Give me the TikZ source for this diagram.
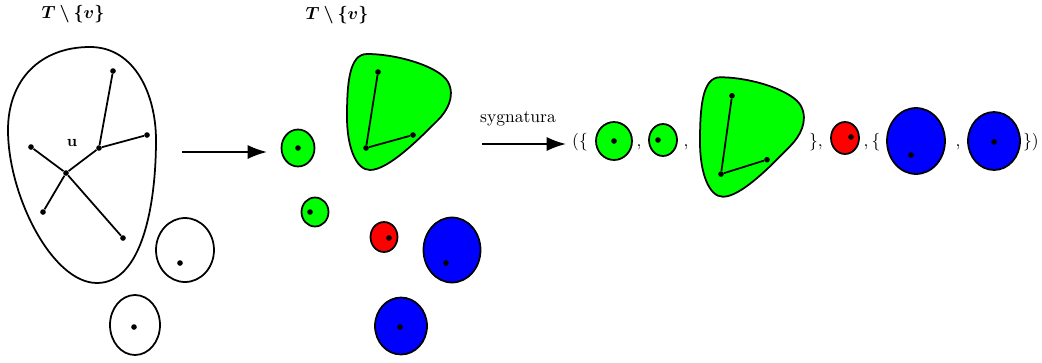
\documentclass[tikz,border=0pt]{standalone}
\usepackage{bm}
\usetikzlibrary{shapes.geometric,arrows.meta}
\begin{document}
\begin{tikzpicture}[x=0.02cm,y=-0.02cm,
  outl/.style={line width=1pt},
  ring/.style={ellipse,draw,line width=1pt,inner sep=0pt},
  vdot/.style={circle,fill=black,inner sep=0pt,minimum size=3.2pt},
  edge/.style={line width=1pt},
  bigarrow/.style={line width=1pt,-{Latex[length=11pt,width=8pt]}},
  lbl/.style={inner sep=0pt,font=\normalsize},
  sig/.style={inner sep=0pt,anchor=base},
  blobpath/.style={outl,fill=green}]
\useasboundingbox (0,0) rectangle (1042,362);

% ---------- left part ----------
\node[lbl] (t1) at (73,14) {$\bm{T\setminus\{v\}}$};
\draw[outl] (90,47) .. controls (40,47) and (8,80) .. (8,130)
  .. controls (8,195) and (52,283) .. (97,283)
  .. controls (142,283) and (156,205) .. (156,140)
  .. controls (156,95) and (135,47) .. (90,47) -- cycle;
\node[vdot] (a1) at (113,71) {};
\node[vdot] (a2) at (147,135) {};
\node[vdot] (u) at (99,148) {};
\node[vdot] (a4) at (66,173) {};
\node[vdot] (a5) at (31,147) {};
\node[vdot] (a6) at (43,212) {};
\node[vdot] (a7) at (123,238) {};
\draw[edge] (a1) -- (u) -- (a2);
\draw[edge] (u) -- (a4) -- (a5);
\draw[edge] (a4) -- (a6);
\draw[edge] (a4) -- (a7);
\node[lbl,font=\small\bfseries] (ul) at (72,143) {u};
\node[ring,minimum width=1.16cm,minimum height=1.28cm] (c1) at (185,250) {};
\node[vdot] (c1d) at (180,263) {};
\node[ring,minimum width=1.0cm,minimum height=1.2cm] (c2) at (135,325) {};
\node[vdot] (c2d) at (134,327) {};

\coordinate (ar1s) at (182,152);
\coordinate (ar1e) at (267,152);
\draw[bigarrow] (ar1s) -- (ar1e);

% ---------- middle part ----------
\node[lbl] (t2) at (337,15) {$\bm{T\setminus\{v\}}$};
\begin{scope}[shift={(398,112)}]
\draw[blobpath] (-31,-58) .. controls (0,-58) and (42,-45) .. (50,-30)
  .. controls (58,-15) and (48,0) .. (40,8)
  .. controls (20,28) and (-10,58) .. (-28,58)
  .. controls (-42,58) and (-51,35) .. (-51,5)
  .. controls (-51,-28) and (-49,-58) .. (-31,-58) -- cycle;
\node[vdot] (m1) at (-20,-40) {};
\node[vdot] (m2) at (-32,36) {};
\node[vdot] (m3) at (15,23) {};
\draw[edge] (m1) -- (m2) -- (m3);
\end{scope}
\node[ring,fill=green,minimum width=0.66cm,minimum height=0.74cm] (g1) at (298,148) {};
\node[vdot] (g1d) at (298,148) {};
\node[ring,fill=green,minimum width=0.54cm,minimum height=0.58cm] (g2) at (315,212) {};
\node[vdot] (g2d) at (310,212) {};
\node[ring,fill=red,minimum width=0.54cm,minimum height=0.6cm] (r1) at (384,237) {};
\node[vdot] (r1d) at (389,238) {};
\node[ring,fill=blue,minimum width=1.14cm,minimum height=1.3cm] (b1) at (452,250) {};
\node[vdot] (b1d) at (446,263) {};
\node[ring,fill=blue,minimum width=1.04cm,minimum height=1.14cm] (b2) at (401,326) {};
\node[vdot] (b2d) at (400,327) {};

\coordinate (ar2s) at (482,144);
\coordinate (ar2e) at (566,144);
\draw[bigarrow] (ar2s) -- (ar2e);
\node[lbl] (sy) at (518,119) {sygnatura};

% ---------- right part ----------
\node[sig] (s1) at (580,146) {$(\{$};
\node[ring,fill=green,minimum width=0.72cm,minimum height=0.76cm] (rg1) at (614,141) {};
\node[vdot] (rg1d) at (614,141) {};
\node[sig] (s2) at (639,146) {$,$};
\node[ring,fill=green,minimum width=0.56cm,minimum height=0.64cm] (rg2) at (663,140) {};
\node[vdot] (rg2d) at (658,140) {};
\node[sig] (s3) at (686,146) {$,$};
\begin{scope}[shift={(751,137)},yscale=1.03]
\draw[blobpath] (-31,-58) .. controls (0,-58) and (42,-45) .. (50,-30)
  .. controls (58,-15) and (48,0) .. (40,8)
  .. controls (20,28) and (-10,58) .. (-28,58)
  .. controls (-42,58) and (-51,35) .. (-51,5)
  .. controls (-51,-28) and (-49,-58) .. (-31,-58) -- cycle;
\node[vdot] (q1) at (-19,-40) {};
\node[vdot] (q2) at (-30,36) {};
\node[vdot] (q3) at (16,22) {};
\draw[edge] (q1) -- (q2) -- (q3);
\end{scope}
\node[sig] (s4) at (816,146) {$\},$};
\node[ring,fill=red,minimum width=0.56cm,minimum height=0.64cm] (rr) at (845,138) {};
\node[vdot] (rrd) at (851,137) {};
\node[sig] (s5) at (872,146) {$,\{$};
\node[ring,fill=blue,minimum width=1.16cm,minimum height=1.32cm] (rb1) at (916,141) {};
\node[vdot] (rb1d) at (911,155) {};
\node[sig] (s6) at (958,146) {$,$};
\node[ring,fill=blue,minimum width=1.04cm,minimum height=1.16cm] (rb2) at (994,141) {};
\node[vdot] (rb2d) at (994,142) {};
\node[sig] (s7) at (1031,146) {$\})$};
\end{tikzpicture}
\end{document}
